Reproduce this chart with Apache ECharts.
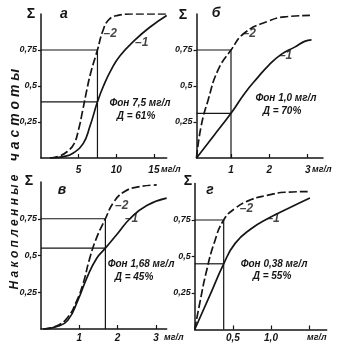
<!DOCTYPE html>
<html>
<head>
<meta charset="utf-8">
<script src="https://cdn.jsdelivr.net/npm/echarts@6/dist/echarts.min.js"></script>
<style>
html,body{margin:0;padding:0;background:#fff;}
#c{width:338px;height:353px;}
</style>
</head>
<body>
<div id="c"></div>
<script>
// ---------- data ----------
const panelLetters = ['а', 'б', 'в', 'г'];
const fonLabels = ['Фон 7,5 мг/л', 'Фон 1,0 мг/л', 'Фон 1,68 мг/л', 'Фон 0,38 мг/л'];
const dLabels = ['Д = 61%', 'Д = 70%', 'Д = 45%', 'Д = 55%'];
const bgValue = [7.5, 1.0, 1.68, 0.38];
const lowLevel = [0.39, 0.31, 0.55, 0.45];
const upLevel = 0.75;
const unitLabel = 'мг/л';
const yTicks = [0.25, 0.5, 0.75];
const xTicksA = [5, 10, 15];
const xTicksB = [1, 2, 3];
const xTicksV = [1, 2, 3];
const xTicksG = [0.5, 1.0, 1.5];
const xLabelsG = [0.5, 1.0];
const xRange = [[0, 16.7], [0.1, 3.4], [0, 3.28], [0, 1.73]];

// curve 1 (solid) and curve 2 (dashed) per panel: [concentration, cumulative frequency]
const curveA1 = [[1.2,0],[3,0.01],[4.3,0.035],[5.6,0.1],[6.5,0.22],[7.5,0.39],[8.3,0.5],[9.3,0.61],[10.5,0.71],[12.5,0.82],[14.5,0.91],[16.7,0.99]];
const curveA2 = [[1.2,0],[2.5,0.015],[3.5,0.045],[4.4,0.1],[5.0,0.2],[5.5,0.32],[6.0,0.45],[6.6,0.59],[7.5,0.75],[8.2,0.88],[9.0,0.96],[10.2,0.99],[12,1.0],[16.7,1.0]];
const curveB1 = [[0.1,0],[0.55,0.155],[1.0,0.31],[1.36,0.45],[1.7,0.56],[1.97,0.64],[2.31,0.72],[2.66,0.77],[2.92,0.81],[3.1,0.82]];
const curveB2 = [[0.1,0],[0.22,0.22],[0.4,0.4],[0.66,0.61],[1.0,0.75],[1.36,0.87],[1.97,0.95],[2.4,0.98],[3.06,0.99]];
const curveV1 = [[0.06,0],[0.4,0.015],[0.7,0.06],[0.97,0.2],[1.2,0.35],[1.45,0.48],[1.68,0.55],[2.0,0.65],[2.32,0.75],[2.76,0.84],[3.28,0.89]];
const curveV2 = [[0.06,0],[0.4,0.02],[0.7,0.08],[0.93,0.19],[1.1,0.31],[1.27,0.48],[1.45,0.62],[1.68,0.75],[1.89,0.86],[2.15,0.93],[2.5,0.965],[3.02,0.98]];
const curveG1 = [[0,0],[0.2,0.235],[0.38,0.45],[0.53,0.59],[0.74,0.69],[0.96,0.76],[1.23,0.83],[1.51,0.9]];
const curveG2 = [[0,0],[0.07,0.19],[0.15,0.39],[0.26,0.6],[0.38,0.75],[0.53,0.83],[0.74,0.89],[0.96,0.92],[1.18,0.94],[1.51,0.945]];

// anchors for curve number labels (data coords)
const label1At = [[12.5,0.8],[2.25,0.71],[2.19,0.75],[0.94,0.76]];
const label2At = [[8.3,0.865],[1.3,0.86],[1.93,0.84],[0.59,0.83]];

// ---------- styling / layout ----------
const INK = '#151515';
const FF = '"Liberation Sans Narrow","Liberation Sans",sans-serif';
const grids = [
  {left: 41, top: 14, width: 125.7, height: 144},
  {left: 196.5, top: 14, width: 126.5, height: 144},
  {left: 41, top: 182, width: 125.7, height: 147},
  {left: 194.7, top: 183.5, width: 132, height: 146}
];
const xTickSets = [xTicksA, xTicksB, xTicksV, xTicksG];
const xLabelSets = [xTicksA, xTicksB, xTicksV, xLabelsG];
const solids = [curveA1, curveB1, curveV1, curveG1];
const dashes = [curveA2, curveB2, curveV2, curveG2];

const xAxes = grids.map((g, i) => ({
  type: 'value', gridIndex: i, min: xRange[i][0], max: xRange[i][1],
  axisLine: {show: true, lineStyle: {color: INK, width: 1.5}},
  axisTick: {show: true, inside: true, length: 4, lineStyle: {color: INK, width: 1.2}, customValues: xTickSets[i]},
  axisLabel: {show: true, customValues: xLabelSets[i], margin: i < 2 ? 7 : 4,
    color: INK, fontSize: 10, fontStyle: 'italic', fontWeight: 'bold', fontFamily: FF,
    formatter: v => (i === 3 ? (v === 1 ? '1,0' : String(v).replace('.', ',')) : String(v))},
  splitLine: {show: false}
}));
const yAxes = grids.map((g, i) => ({
  type: 'value', gridIndex: i, min: 0, max: 1,
  axisLine: {show: true, lineStyle: {color: INK, width: 1.5}},
  axisTick: {show: true, inside: false, length: 3, lineStyle: {color: INK, width: 1.2}, customValues: yTicks},
  axisLabel: {show: true, customValues: yTicks, margin: 4, color: INK, fontSize: 9,
    fontStyle: 'italic', fontWeight: 'bold', fontFamily: FF,
    formatter: v => String(v).replace('.', ',')},
  splitLine: {show: false}
}));

const series = [];
grids.forEach((g, i) => {
  const x0 = xRange[i][0];
  series.push({type: 'line', xAxisIndex: i, yAxisIndex: i, silent: true, symbol: 'none', animation: false,
    data: [[x0, upLevel], [bgValue[i], upLevel], [bgValue[i], 0]],
    lineStyle: {color: INK, width: 1.2}});
  series.push({type: 'line', xAxisIndex: i, yAxisIndex: i, silent: true, symbol: 'none', animation: false,
    data: [[x0, lowLevel[i]], [bgValue[i], lowLevel[i]]],
    lineStyle: {color: INK, width: 1.2}});
  series.push({type: 'line', xAxisIndex: i, yAxisIndex: i, silent: true, symbol: 'none', animation: false,
    smooth: 0.5, data: solids[i],
    lineStyle: {color: INK, width: 1.7}});
  series.push({type: 'line', xAxisIndex: i, yAxisIndex: i, silent: true, symbol: 'none', animation: false,
    smooth: 0.5, data: dashes[i],
    lineStyle: {color: INK, width: 1.7, type: [8, 3]}});
  series.push({type: 'scatter', xAxisIndex: i, yAxisIndex: i, silent: true, symbolSize: 0, animation: false,
    data: [{value: label1At[i], name: '1'}, {value: label2At[i], name: '2'}],
    label: {show: true, position: 'right', distance: 0, formatter: p => '–' + p.name,
      color: INK, fontSize: 12, fontStyle: 'italic', fontWeight: 'bold', fontFamily: FF}});
});

const textStyleBase = {fill: INK, fontFamily: FF, fontStyle: 'italic', fontWeight: 'bold'};
const graphic = [];
const sigmaPos = [[31, 14], [183, 15], [29, 181], [188, 181]];
const letterPos = [[64, 14], [216, 13], [62, 190], [210, 190]];
const fonPos = [[140, 103], [286, 98], [141, 264], [274, 264]];
const dPos = [[136, 116], [282, 111], [134, 277], [272, 276]];
const unitPos = [[161, 170], [312, 170], [164, 338], [307, 338]];
for (let i = 0; i < 4; i++) {
  graphic.push({type: 'text', x: sigmaPos[i][0], y: sigmaPos[i][1],
    style: Object.assign({}, textStyleBase, {text: 'Σ', fontSize: 14, fontStyle: 'normal', align: 'center', verticalAlign: 'middle'})});
  graphic.push({type: 'text', x: letterPos[i][0], y: letterPos[i][1],
    style: Object.assign({}, textStyleBase, {text: panelLetters[i], fontSize: 14, align: 'center', verticalAlign: 'middle'})});
  graphic.push({type: 'text', x: fonPos[i][0], y: fonPos[i][1],
    style: Object.assign({}, textStyleBase, {text: fonLabels[i], fontSize: 10, align: 'center', verticalAlign: 'middle'})});
  graphic.push({type: 'text', x: dPos[i][0], y: dPos[i][1],
    style: Object.assign({}, textStyleBase, {text: dLabels[i], fontSize: 10, align: 'center', verticalAlign: 'middle'})});
  graphic.push({type: 'text', x: unitPos[i][0], y: unitPos[i][1],
    style: Object.assign({}, textStyleBase, {text: unitLabel, fontSize: 9, align: 'left', verticalAlign: 'middle'})});
}
graphic.push({type: 'text', x: 15, y: 115, rotation: Math.PI / 2,
  style: Object.assign({}, textStyleBase, {text: 'ч а с т о т ы', fontSize: 14, align: 'center', verticalAlign: 'middle'})});
graphic.push({type: 'text', x: 15, y: 232, rotation: Math.PI / 2,
  style: Object.assign({}, textStyleBase, {text: 'Н а к о п л е н н ы е', fontSize: 12, align: 'center', verticalAlign: 'middle'})});

const chart = echarts.init(document.getElementById('c'), null, {renderer: 'canvas'});
chart.setOption({
  backgroundColor: '#ffffff',
  animation: false,
  grid: grids,
  xAxis: xAxes,
  yAxis: yAxes,
  series: series,
  graphic: graphic
});
</script>
</body>
</html>
